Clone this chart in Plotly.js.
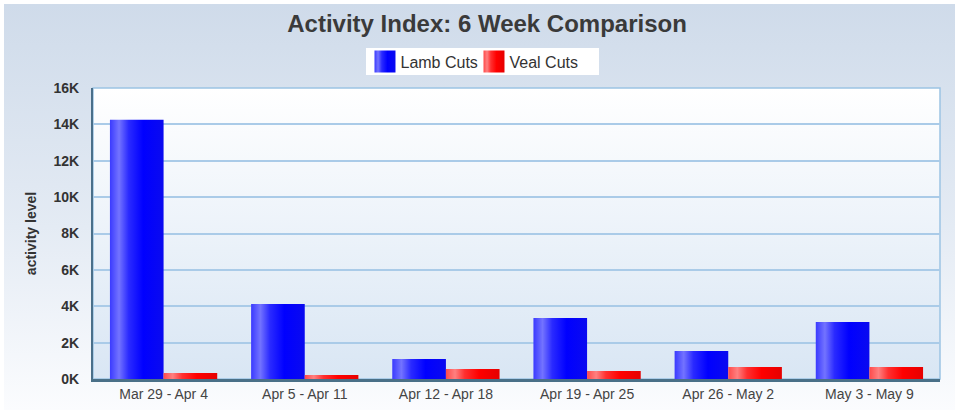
<!DOCTYPE html>
<html><head><meta charset="utf-8">
<script src="https://cdn.plot.ly/plotly-3.0.1.min.js"></script>
<style>
html,body{margin:0;padding:0;background:#fff;}
#wrap{position:relative;width:955px;height:410px;overflow:hidden;background:#fff;}
#bg{position:absolute;left:4px;top:4px;right:0;bottom:0;background:linear-gradient(to bottom,#cfdbea 0%,#e4ebf4 55%,#fbfcfe 100%);}
#chart{position:absolute;left:0;top:0;width:955px;height:410px;}
</style></head>
<body>
<div id="wrap"><div id="bg"></div><div id="chart"></div></div>
<script>
const categories = ["Mar 29 - Apr 4","Apr 5 - Apr 11","Apr 12 - Apr 18","Apr 19 - Apr 25","Apr 26 - May 2","May 3 - May 9"];
const lambCuts = [14250, 4120, 1100, 3350, 1540, 3130];
const vealCuts = [330, 220, 550, 440, 660, 660];
const yTickVals = [0,2000,4000,6000,8000,10000,12000,14000,16000];
const yTickText = ["0K","2K","4K","6K","8K","10K","12K","14K","16K"];

const plotBg = 'data:image/svg+xml;utf8,' + encodeURIComponent(
 '<svg xmlns="http://www.w3.org/2000/svg" width="100" height="100" preserveAspectRatio="none"><defs><linearGradient id="g" x1="0" y1="0" x2="0" y2="1"><stop offset="0" stop-color="#ffffff"/><stop offset="1" stop-color="#d9e6f4"/></linearGradient></defs><rect width="100" height="100" fill="url(#g)"/></svg>');

const traces = [
 {type:'bar', name:'Lamb Cuts', x:categories, y:lambCuts, marker:{color:'#0000ff', line:{width:0}}, hoverinfo:'y'},
 {type:'bar', name:'Veal Cuts', x:categories, y:vealCuts, marker:{color:'#ff0000', line:{width:0}}, hoverinfo:'y'}
];

const layout = {
 width:955, height:410,
 margin:{l:93, r:15, t:88, b:31},
 paper_bgcolor:'rgba(0,0,0,0)',
 plot_bgcolor:'rgba(0,0,0,0)',
 font:{family:'Liberation Sans, Arial, sans-serif', color:'#444', size:14},
 title:{text:'<b>Activity Index: 6 Week Comparison</b>', x:0.51, xanchor:'center', y:0.942, yref:'container', yanchor:'middle', font:{size:24, color:'#3a3a3a', family:'Liberation Sans, Arial, sans-serif'}},
 barmode:'group', bargap:0.24, bargroupgap:0,
 showlegend:true,
 legend:{orientation:'h', x:0.4445, xanchor:'center', y:1.149, yanchor:'top', bgcolor:'#ffffff', borderwidth:0, font:{size:16, color:'#333'}, itemwidth:30, entrywidth:64, traceorder:'normal'},
 xaxis:{type:'category', showgrid:false, showline:true, linecolor:'#4a7088', linewidth:2.5, ticks:'', tickfont:{size:14, color:'#444'}, fixedrange:true, zeroline:false},
 yaxis:{range:[0,16000], tickvals:yTickVals, ticktext:yTickText, showgrid:true, gridcolor:'#aacbe8', gridwidth:2, showline:true, linecolor:'#4a6f8a', linewidth:2, zeroline:false, ticks:'', ticklabelstandoff:9, tickfont:{size:14, color:'#333', family:'Liberation Sans, Arial, sans-serif', weight:'bold'},
   title:{text:'<b>activity level</b>', standoff:14, font:{size:14, color:'#333'}}, fixedrange:true},
 images:[{source:plotBg, xref:'paper', yref:'paper', x:0, y:1, sizex:1, sizey:1, sizing:'stretch', layer:'below', xanchor:'left', yanchor:'top'}],
 shapes:[{type:'rect', xref:'paper', yref:'paper', x0:0, x1:1, y0:0, y1:1, line:{color:'#9cc3e3', width:1.5}, layer:'below'}]
};

function applyGradients(gd){
 const svg = gd.querySelector('.main-svg');
 const ns = 'http://www.w3.org/2000/svg';
 let defs = svg.querySelector('defs');
 if(!defs){ defs = document.createElementNS(ns,'defs'); svg.insertBefore(defs, svg.firstChild); }
 function grad(id, stops){
   const g = document.createElementNS(ns,'linearGradient');
   g.setAttribute('id', id); g.setAttribute('x1','0'); g.setAttribute('x2','1'); g.setAttribute('y1','0'); g.setAttribute('y2','0');
   stops.forEach(s=>{const st=document.createElementNS(ns,'stop'); st.setAttribute('offset',s[0]); st.setAttribute('stop-color',s[1]); g.appendChild(st);});
   defs.appendChild(g);
 }
 grad('gBlue', [[0,'#3a3aff'],[0.17,'#7373ff'],[0.35,'#2a2aff'],[0.62,'#0000ff'],[1,'#0a0af0']]);
 grad('gRed', [[0,'#ff4a4a'],[0.17,'#ff8080'],[0.35,'#ff3030'],[0.62,'#ff0000'],[1,'#e60000']]);
 const tr = gd.querySelectorAll('.barlayer .trace');
 const ids = ['gBlue','gRed'];
 tr.forEach((t,i)=>{ t.querySelectorAll('path').forEach(p=>{ p.style.fill='url(#'+ids[i]+')'; }); });
 const leg = gd.querySelectorAll('.legend .traces');
 leg.forEach((t,i)=>{ t.querySelectorAll('.legendpoints path').forEach(p=>{ p.style.fill='url(#'+ids[i]+')'; p.setAttribute('d','M-6,-11h21v22h-21Z'); p.style.strokeWidth='0'; }); });
 // legend box geometry
 const bg = gd.querySelector('.legend .bg');
 if(bg){
   const h = parseFloat(bg.getAttribute('height'));
   bg.setAttribute('x', 6); bg.setAttribute('width', 233);
   bg.setAttribute('y', (h-27)/2 - 0.5); bg.setAttribute('height', 27);
 }
}

Plotly.newPlot('chart', traces, layout, {displayModeBar:false}).then(applyGradients);
</script>
</body></html>
